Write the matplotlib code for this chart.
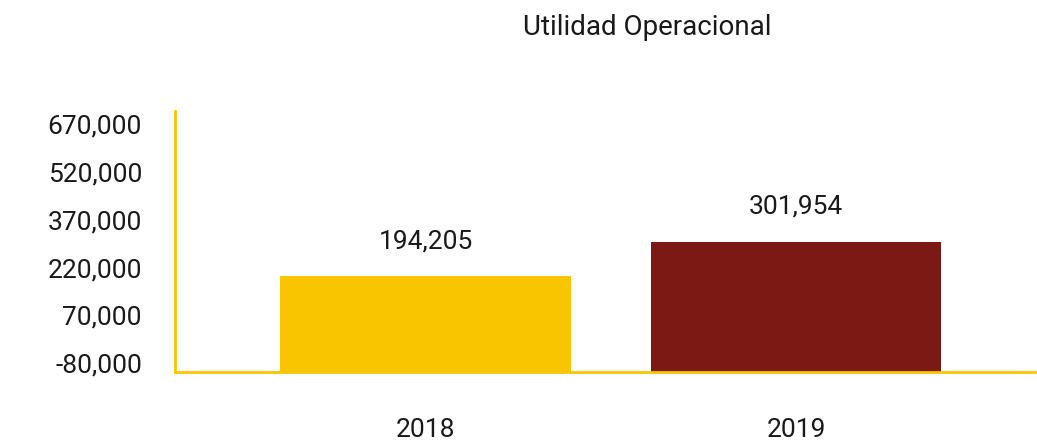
import matplotlib
matplotlib.use("Agg")
import matplotlib.pyplot as plt
import numpy as np

years = ["2018", "2019"]
values = [194205, 301954]
value_labels = ["194,205", "301,954"]
ticks = [-80000, 70000, 220000, 370000, 520000, 670000]
bar_colors = ["#F9C500", "#7B1A14"]
axis_color = "#F9C500"

plt.rcParams["font.family"] = ["Roboto", "DejaVu Sans"]

fig = plt.figure(figsize=(10.37, 4.46), dpi=100)
ax = fig.add_axes([0.169, 0.166, 0.829, 0.585])

ymin, ymax = -108000, 712000
x = np.arange(len(years))
heights = np.array(values) - ymin
ax.bar(x, heights, bottom=ymin, width=0.785, color=bar_colors, zorder=2)

# value labels sit about 34 px above each bar
for xi, v, lab in zip(x, values, value_labels):
    ax.annotate(lab, xy=(xi, v), xytext=(0, 25), textcoords="offset points",
                ha="center", va="center", fontsize=19, color="#1a1a1a")

ax.set_ylim(ymin, ymax)
ax.set_xlim(-0.676, 1.645)
ax.set_yticks(ticks, [f"{t:,}" for t in ticks])
ax.set_xticks(x, years)
ax.tick_params(axis="y", length=0, pad=24, labelsize=19, labelcolor="#1a1a1a")
ax.tick_params(axis="x", length=0, pad=33, labelsize=19, labelcolor="#1a1a1a")

for side in ["top", "right"]:
    ax.spines[side].set_visible(False)
ax.spines["left"].set_color(axis_color)
ax.spines["bottom"].set_color(axis_color)
ax.spines["left"].set_linewidth(2)
ax.spines["bottom"].set_linewidth(2)

fig.text(0.624, 0.938, "Utilidad Operacional", ha="center", va="center",
         fontsize=20, color="#1a1a1a")

fig.savefig("out.png", dpi=100)
